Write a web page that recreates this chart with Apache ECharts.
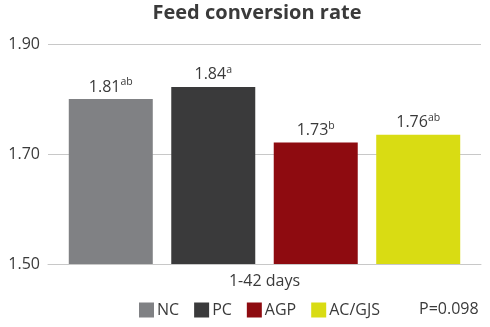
<!DOCTYPE html>
<html>
<head>
<meta charset="utf-8">
<script src="https://cdn.jsdelivr.net/npm/echarts@6/dist/echarts.min.js"></script>
<style>
html,body{margin:0;padding:0;background:#fff;}
#c{width:490px;height:327px;}
</style>
</head>
<body>
<div id="c"></div>
<script>
var categories = ['1-42 days'];
var seriesNames = ['NC', 'PC', 'AGP', 'AC/GJS'];
var barValues = [1.80, 1.822, 1.721, 1.735];
var labelValues = ['1.81', '1.84', '1.73', '1.76'];
var labelLetters = ['ab', 'a', 'b', 'ab'];
var colors = ['#808184', '#3a3a3b', '#8e0b10', '#d9dc13'];
var yTicks = [1.50, 1.70, 1.90];
var pText = 'P=0.098';

var FONT = '"Open Sans", sans-serif';
var TXT = '#3a3a3a';
var chart = echarts.init(document.getElementById('c'), null, {renderer: 'canvas'});

var series = seriesNames.map(function (name, i) {
  return {
    name: name,
    type: 'bar',
    data: [barValues[i]],
    barWidth: 84,
    barGap: '22%',
    itemStyle: {color: colors[i]},
    label: {
      show: true,
      position: 'top',
      distance: 2,
      formatter: '{n|' + labelValues[i] + '}{s|' + labelLetters[i] + '}',
      rich: {
        n: {fontSize: 16, color: TXT, fontFamily: FONT},
        s: {fontSize: 10.5, color: TXT, fontFamily: FONT, verticalAlign: 'top', padding: [0, 0, 9, 0]}
      }
    }
  };
});

chart.setOption({
  animation: false,
  title: {
    text: 'Feed conversion rate',
    left: 257, top: 3, textAlign: 'center', padding: 0,
    textStyle: {fontSize: 20, fontWeight: 'bold', color: TXT, fontFamily: FONT}
  },
  legend: {
    data: seriesNames,
    left: 139, top: 302, padding: 0,
    itemWidth: 15, itemHeight: 15, itemGap: 15,
    icon: 'rect',
    textStyle: {fontSize: 16, color: TXT, fontFamily: FONT, padding: [0, 0, 0, -2]}
  },
  grid: {left: 48, right: 9, top: 44, bottom: 63},
  xAxis: {
    type: 'category',
    data: categories,
    axisLine: {show: true, lineStyle: {color: '#c8c8c8', width: 1}},
    axisTick: {show: false},
    axisLabel: {fontSize: 16, color: TXT, fontFamily: FONT, margin: 9}
  },
  yAxis: {
    type: 'value',
    min: 1.50, max: 1.90, interval: 0.20,
    axisLine: {show: false},
    axisTick: {show: false},
    splitLine: {lineStyle: {color: '#c8c8c8', width: 1}},
    axisLabel: {
      fontSize: 16, color: TXT, fontFamily: FONT, margin: 8,
      formatter: function (v) { return v.toFixed(2); }
    }
  },
  graphic: [{
    type: 'text', left: 419, top: 301,
    style: {text: pText, fontSize: 16, fill: TXT, fontFamily: FONT}
  }],
  series: series
});
</script>
</body>
</html>
